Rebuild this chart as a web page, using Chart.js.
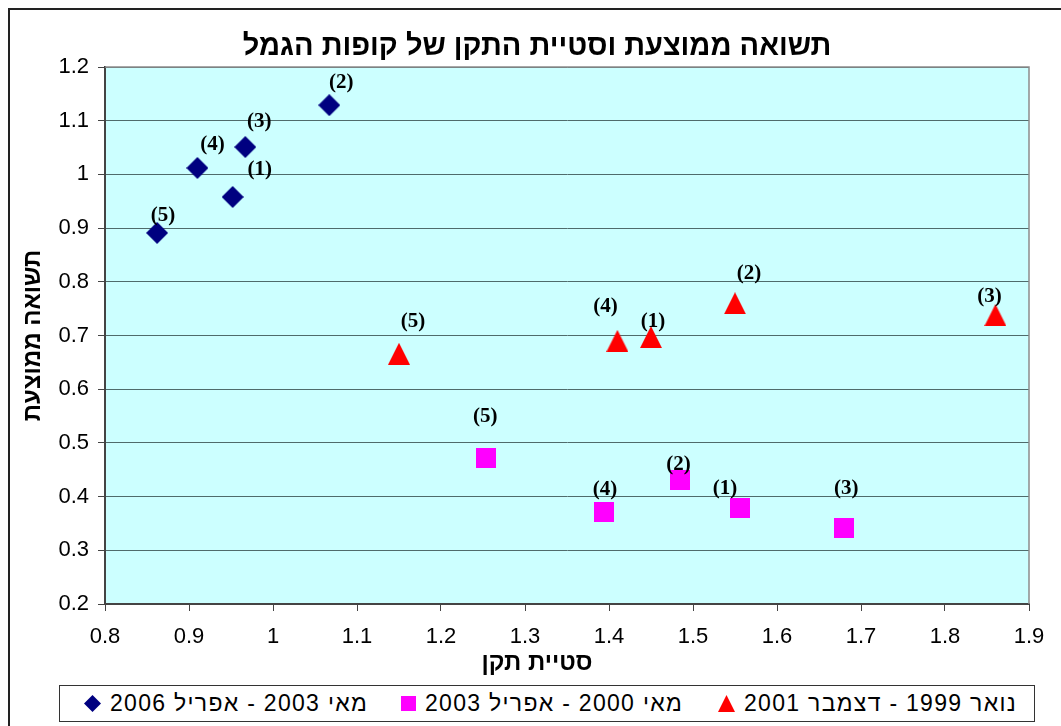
<!DOCTYPE html>
<html lang="he">
<head>
<meta charset="utf-8">
<title>תשואה ממוצעת וסטיית התקן של קופות הגמל</title>
<script src="https://cdn.jsdelivr.net/npm/chart.js@4.4.1/dist/chart.umd.min.js"></script>
<style>
  html, body { margin: 0; padding: 0; background: #fff; overflow: hidden; }
  #wrap { position: relative; width: 1061px; height: 726px; }
  #frame { position: absolute; left: 8px; top: 8px; width: 1100px; height: 800px;
           border-left: 2px solid #222; border-top: 2px solid #222; pointer-events: none; }
  #legend { position: absolute; left: 59px; top: 685px; width: 976px; height: 37px;
            border: 1px solid #333; background: #fff; box-sizing: border-box;
            display: flex; align-items: center; padding-left: 24px;
            font: 23px "Liberation Sans", Arial, sans-serif; letter-spacing: 1.3px;
            white-space: nowrap; overflow: hidden; }
  .item { flex: none; width: 317px; display: flex; align-items: center; }
  .item canvas { margin-right: 9px; }
</style>
</head>
<body>
<div id="wrap">
  <canvas id="chart" width="1061" height="726"></canvas>
  <div id="frame"></div>
  <div id="legend"></div>
</div>
<script>
const titleText = 'תשואה ממוצעת וסטיית התקן של קופות הגמל';
const xTitle = 'סטיית תקן';
const yTitle = 'תשואה ממוצעת';

// point names, same order in every series
const pointNames = ['(1)', '(2)', '(3)', '(4)', '(5)'];

const seriesNames = ['מאי 2003 - אפריל 2006', 'מאי 2000 - אפריל 2003', 'נואר 1999 - דצמבר 2001'];

// מאי 2003 - אפריל 2006
const stdevA = [0.952, 1.067, 0.967, 0.910, 0.862];
const returnA = [0.958, 1.129, 1.051, 1.012, 0.891];
// מאי 2000 - אפריל 2003
const stdevB = [1.556, 1.485, 1.680, 1.394, 1.254];
const returnB = [0.379, 0.431, 0.342, 0.371, 0.472];
// ינואר 1999 - דצמבר 2001
const stdevC = [1.450, 1.550, 1.860, 1.410, 1.150];
const returnC = [0.697, 0.760, 0.738, 0.690, 0.666];

const xRange = [0.8, 1.9];
const yRange = [0.2, 1.2];
const tickStep = 0.1;

// where each "(n)" label sits relative to its marker, in pixels
const labelShift = [
  [[27, -27], [12, -23], [14, -25], [15, -23], [6, -17]],
  [[-15, -19], [-2, -15], [2, -39], [1, -23], [-1, -41]],
  [[2, -16], [14, -30], [-6, -19], [-12, -34], [14, -32]]
];

const sans = '"Liberation Sans", Arial, sans-serif';

function makeMarker(shape, size, color) {
  const c = document.createElement('canvas');
  c.width = size; c.height = size;
  const g = c.getContext('2d');
  g.fillStyle = color;
  g.beginPath();
  if (shape === 'diamond') {
    g.moveTo(size / 2, 0); g.lineTo(size, size / 2); g.lineTo(size / 2, size); g.lineTo(0, size / 2);
  } else if (shape === 'triangle') {
    g.moveTo(size / 2, 0); g.lineTo(size, size); g.lineTo(0, size);
  } else {
    g.rect(0, 0, size, size);
  }
  g.closePath();
  g.fill();
  return c;
}

const styles = [
  { shape: 'diamond', size: 22, legendSize: 17, color: '#000080' },
  { shape: 'square', size: 20, legendSize: 15, color: '#ff00ff' },
  { shape: 'triangle', size: 22, legendSize: 17, color: '#ff0000' }
];

function toPoints(xs, ys) {
  return xs.map((x, i) => ({ x: x, y: ys[i] }));
}

const seriesData = [toPoints(stdevA, returnA), toPoints(stdevB, returnB), toPoints(stdevC, returnC)];

const datasets = seriesData.map((pts, i) => {
  const m = makeMarker(styles[i].shape, styles[i].size, styles[i].color);
  return {
    label: seriesNames[i],
    data: pts,
    pointStyle: m,
    pointHoverStyle: m,
    backgroundColor: styles[i].color,
    borderColor: styles[i].color,
    showLine: false
  };
});

// 1.0 is written as "1" in the original
const tickText = v => String(Math.round(v * 10) / 10);

const plotArea = {
  id: 'plotArea',
  beforeDraw(chart) {
    const { ctx, chartArea: a } = chart;
    ctx.save();
    ctx.fillStyle = '#ccffff';
    ctx.fillRect(a.left, a.top, a.width, a.height);
    ctx.restore();
  },
  beforeDatasetsDraw(chart) {
    const { ctx, chartArea: a } = chart;
    ctx.save();
    ctx.strokeStyle = '#8c8c8c';
    ctx.lineWidth = 1.5;
    ctx.beginPath();
    ctx.moveTo(a.left, a.top);
    ctx.lineTo(a.right, a.top);
    ctx.lineTo(a.right, a.bottom);
    ctx.stroke();
    ctx.restore();
  }
};

const pointLabels = {
  id: 'pointLabels',
  afterDatasetsDraw(chart) {
    const ctx = chart.ctx;
    ctx.save();
    ctx.font = 'bold 21px "Liberation Serif", "Times New Roman", serif';
    ctx.fillStyle = '#000';
    ctx.textAlign = 'center';
    ctx.textBaseline = 'middle';
    chart.data.datasets.forEach((ds, i) => {
      chart.getDatasetMeta(i).data.forEach((el, j) => {
        const s = labelShift[i][j];
        ctx.fillText(pointNames[j], el.x + s[0], el.y + s[1]);
      });
    });
    ctx.restore();
  }
};

const chart = new Chart(document.getElementById('chart'), {
  type: 'scatter',
  data: { datasets: datasets },
  plugins: [plotArea, pointLabels],
  options: {
    responsive: false,
    animation: false,
    events: [],
    // left padding moves the centred titles right; the y axis box fills the rest
    layout: { padding: { left: 45, right: 32, top: 0, bottom: 48.6 } },
    plugins: {
      legend: { display: false },
      tooltip: { enabled: false },
      title: {
        display: true,
        text: titleText,
        color: '#000',
        font: { family: sans, size: 29, weight: 'bold' },
        padding: { top: 29.6, bottom: 2.6 }
      },
      subtitle: {
        display: true,
        position: 'bottom',
        text: xTitle,
        color: '#000',
        font: { family: sans, size: 24, weight: 'bold' },
        padding: { top: 0.6, bottom: 0 }
      }
    },
    scales: {
      x: {
        type: 'linear',
        min: xRange[0],
        max: xRange[1],
        afterFit(s) { s.height = 44; },
        ticks: { stepSize: tickStep, color: '#000', padding: 12.8, font: { family: sans, size: 22 }, callback: tickText },
        grid: { drawOnChartArea: false, tickLength: 7, tickColor: '#444' },
        border: { color: '#444', width: 2 }
      },
      y: {
        type: 'linear',
        min: yRange[0],
        max: yRange[1],
        afterFit(s) { s.width = 60; },
        ticks: { stepSize: tickStep, color: '#000', padding: 9, font: { family: sans, size: 22 }, callback: tickText },
        grid: { color: '#4f6b6b', lineWidth: 1, tickLength: 7, tickColor: '#444' },
        border: { color: '#444', width: 2 },
        title: {
          display: true,
          text: yTitle,
          color: '#000',
          font: { family: sans, size: 24, weight: 'bold' },
          padding: { top: -26.4, bottom: 0 }
        }
      }
    }
  }
});

// legend, built from the same datasets
const legend = document.getElementById('legend');
chart.data.datasets.forEach((ds, i) => {
  const item = document.createElement('div');
  item.className = 'item';
  item.appendChild(makeMarker(styles[i].shape, styles[i].legendSize, styles[i].color));
  const t = document.createElement('span');
  t.dir = 'rtl';
  t.textContent = ds.label;
  item.appendChild(t);
  legend.appendChild(item);
});
</script>
</body>
</html>
